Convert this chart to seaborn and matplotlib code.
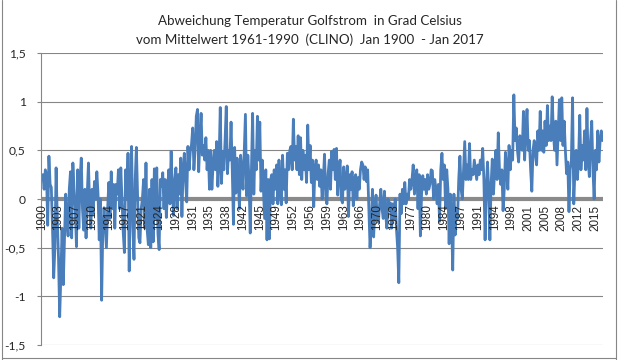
import numpy as np
import pandas as pd
import matplotlib
matplotlib.use("Agg")
import matplotlib.pyplot as plt
from matplotlib.lines import Line2D
import seaborn as sns

# quarterly readings (Jan, Apr, Jul, Oct of each year)
v1900s = [0.2, 0.25, 0.1, 0.3,   0.25, -0.27, 0.44, 0.15,  0.12, -0.3, -0.81, -0.5,
          0.32, -0.2, -0.6, -1.21,  -0.78, -0.3, -0.88, -0.4,  0.05, -0.2, -0.38, 0.1,
          0.28, -0.4, 0.37, 0.1,   -0.1, -0.49, 0.3, -0.3,   0.2, 0.42, -0.1, -0.32,
          0.1, -0.4, 0.05, 0.37]
v1910s = [-0.08, -0.3, 0.1, -0.15,  0.18, 0.0, 0.28, 0.05,  -0.42, 0.0, -1.04, -0.3,
          -0.09, -0.3, -0.5, -0.1,  0.17, -0.2, 0.28, -0.1,  0.15, -0.3, 0.15, 0.05,
          0.3, -0.1, 0.32, 0.0,   -0.34, -0.55, 0.3, 0.0,   0.47, -0.74, 0.1, 0.54,
          -0.28, -0.62, 0.2, 0.53]
v1920s = [0.04, -0.4, -0.45, -0.1,  0.0, 0.2, -0.3, 0.37,  -0.32, -0.47, 0.1, -0.5,
          0.2, -0.44, 0.31, -0.2,  0.32, -0.36, -0.52, 0.2,  0.13, 0.27, -0.1, 0.2,
          -0.19, 0.08, 0.3, -0.05,  0.49, 0.1, -0.17, 0.2,  0.32, -0.1, 0.25, 0.05,
          0.42, -0.18, 0.3, 0.47]
v1930s = [0.2, -0.03, 0.54, 0.3,  0.49, 0.56, 0.73, 0.3,  0.5, 0.85, 0.92, 0.28,
          0.6, 0.88, 0.45, 0.55,  0.4, 0.63, 0.3, 0.5,  0.1, 0.5, 0.1, 0.35,
          0.5, 0.3, 0.59, 0.13,  0.4, 0.94, 0.16, 0.49,  0.3, 0.6, 0.95, 0.26,
          0.5, 0.4, 0.79, 0.3]
v1940s = [-0.26, 0.53, 0.06, 0.42,  0.2, -0.1, 0.45, 0.3,  0.1, 0.5, 0.87, 0.03,
          0.45, 0.2, -0.35, 0.3,  0.88, 0.05, 0.5, 0.3,  0.85, 0.4, 0.79, 0.08,
          0.4, 0.1, -0.2, 0.3,  -0.42, 0.2, -0.41, 0.2,  0.25, -0.05, 0.3, 0.1,
          0.35, -0.05, 0.4, 0.1]
v1950s = [-0.06, 0.45, 0.1, 0.3,  -0.04, 0.47, 0.3, 0.5,  0.54, 0.3, 0.82, 0.4,
          0.54, 0.3, 0.65, 0.25,  0.63, 0.2, 0.5, 0.3,  0.45, 0.17, 0.76, 0.3,
          0.55, 0.17, 0.4, -0.08,  0.32, 0.4, 0.2, 0.35,  0.13, 0.3, 0.0, 0.2,
          0.46, 0.04, -0.05, 0.26]
v1960s = [0.4, 0.1, 0.49, 0.3,  0.51, 0.2, 0.52, 0.04,  0.3, 0.4, 0.0, -0.04,
          0.33, 0.1, 0.2, 0.34,  -0.18, 0.25, 0.1, 0.28,  -0.07, 0.2, 0.25, 0.0,
          0.22, 0.1, 0.3, 0.38,  0.35, 0.2, 0.33, 0.18,  0.3, -0.1, -0.5, -0.27,
          0.1, -0.39, -0.1, 0.04]
v1970s = [-0.2, -0.24, -0.05, 0.1,  -0.1, -0.2, 0.08, -0.15,  -0.3, 0.0, -0.1, -0.04,
          -0.3, -0.05, -0.2, 0.0,  -0.3, -0.5, -0.86, 0.05,  -0.15, 0.1, -0.05, 0.17,
          -0.05, 0.05, 0.0, 0.2,  0.1, 0.2, 0.35, 0.05,  0.2, 0.3, -0.1, 0.25,
          -0.38, 0.05, 0.24, 0.1]
v1980s = [0.2, 0.05, 0.25, 0.1,  0.15, 0.3, 0.29, 0.0,  0.2, 0.1, -0.05, 0.15,
          -0.23, 0.3, 0.47, 0.2,  0.35, -0.1, 0.3, 0.1,  -0.46, 0.05, -0.2, -0.73,
          0.05, -0.37, -0.1, -0.2,  0.2, 0.44, 0.1, 0.0,  0.3, 0.59, 0.2, 0.35,
          0.2, 0.57, 0.2, 0.3]
v1990s = [0.25, 0.4, 0.3, 0.2,  0.35, 0.25, 0.4, 0.3,  0.52, 0.2, -0.42, 0.1,
          0.38, 0.1, -0.42, 0.15,  0.41, 0.05, 0.3, 0.5,  0.2, 0.68, 0.3, 0.15,
          0.3, -0.12, 0.1, 0.48,  0.3, 0.1, 0.55, 0.3,  0.5, 0.4, 1.07, 0.6,
          0.73, 0.5, 0.38, 0.65]
v2000s = [0.6, 0.5, 0.9, 0.4,  0.7, 0.92, 0.5, 0.6,  0.3, 0.08, 0.5, 0.6,
          0.45, 0.35, 0.7, 0.5,  0.9, 0.5, 0.7, 0.48,  0.8, 0.55, 0.96, 0.6,
          0.75, 0.6, 1.05, 0.68,  0.5, 0.8, 0.35, 0.7,  1.02, 0.6, 1.04, 0.55,
          0.8, 0.5, 0.26, 0.38]
v2010s = [-0.13, 0.3, 0.4, 1.04,  -0.05, 0.3, 0.5, 0.2,  0.4, 0.86, 0.3, 0.55,
          0.4, 0.7, 0.3, 0.93,  0.4, 0.23, 0.6, 0.8,  0.3, 0.0, 0.5, 0.3,
          0.7, 0.38, 0.6, 0.7,  0.6]

ytick_values = [-1.5, -1.0, -0.5, 0.0, 0.5, 1.0, 1.5]
ytick_labels = ["-1,5", "-1", "-0,5", "0", "0,5", "1", "1,5"]
title_text = ("Abweichung Temperatur Golfstrom  in Grad Celsius\n"
              "vom Mittelwert 1961-1990  (CLINO)  Jan 1900  - Jan 2017")

values = v1900s + v1910s + v1920s + v1930s + v1940s + v1950s + v1960s + v1970s + v1980s + v1990s + v2000s + v2010s
df = pd.DataFrame({"jahr": 1900 + 0.25 * np.arange(len(values)), "abweichung": values})

# category labels every 42 months like the Excel axis
xticks = 1900 + 3.5 * np.arange(34)
xlabels = [str(int(np.floor(t))) for t in xticks]

sns.set_style("white")
plt.rcParams["font.family"] = ["Lato", "DejaVu Sans"]

fig = plt.figure(figsize=(6.19, 3.6), dpi=100)
ax = fig.add_axes([41 / 619, 15 / 360, 562 / 619, 292 / 360])

for yv in ytick_values:
    if yv != 0:
        ax.axhline(yv, color="#868686", lw=0.8, zorder=1)
ax.axhline(0, color="#8a8a8a", lw=3.0, zorder=1.5)

sns.lineplot(data=df, x="jahr", y="abweichung", ax=ax, color="#4a7ebb", lw=2.0, zorder=2)

ax.set_xlim(1899.85, 2017.1)
ax.set_ylim(-1.5, 1.5)
ax.set_xlabel("")
ax.set_ylabel("")
ax.set_axisbelow(False)

ax.spines["top"].set_visible(False)
ax.spines["right"].set_visible(False)
ax.spines["bottom"].set_position(("data", 0))
ax.spines["bottom"].set_visible(False)
ax.spines["left"].set_color("#868686")
ax.spines["left"].set_linewidth(0.8)

ax.set_yticks(ytick_values)
ax.set_yticklabels(ytick_labels, fontsize=8.7)
ax.tick_params(axis="y", length=3, width=0.8, color="#868686", pad=8, left=True)

ax.set_xticks(xticks)
ax.set_xticklabels(xlabels, rotation=90, fontsize=8.4, family=["Liberation Sans", "DejaVu Sans"])
ax.tick_params(axis="x", length=0, pad=4)

fig.text(0.5, 0.915, title_text, ha="center", va="center", fontsize=9.6, linespacing=1.55)

# chart area border
for xs, ys in [([1.5 / 619, 1.5 / 619], [0, 1]), ([615.5 / 619, 615.5 / 619], [0, 1]),
               ([1.5 / 619, 615.5 / 619], [2.5 / 360, 2.5 / 360])]:
    fig.add_artist(Line2D(xs, ys, color="#868686", lw=0.8))

fig.savefig("out.png", dpi=100)
